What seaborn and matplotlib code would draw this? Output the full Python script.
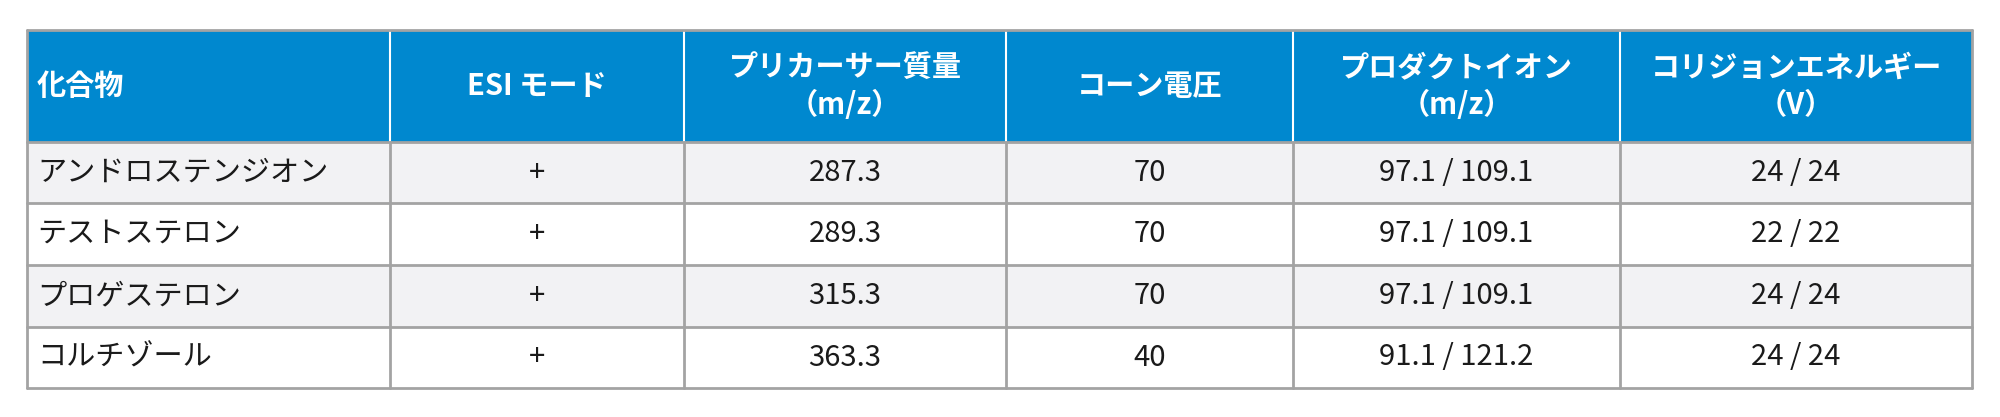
import matplotlib
matplotlib.use("Agg")
import matplotlib.pyplot as plt
import seaborn as sns
from matplotlib.patches import Rectangle

# Table content
headers = ['化合物', 'ESI モード', 'プリカーサー質量\n（m/z）', 'コーン電圧', 'プロダクトイオン\n（m/z）', 'コリジョンエネルギー\n（V）']
compounds = ['アンドロステンジオン', 'テストステロン', 'プロゲステロン', 'コルチゾール']
esi_mode = ['+', '+', '+', '+']
precursor = ['287.3', '289.3', '315.3', '363.3']
cone_voltage = ['70', '70', '70', '40']
product_ions = ['97.1 / 109.1', '97.1 / 109.1', '97.1 / 109.1', '91.1 / 121.2']
collision_energy = ['24 / 24', '22 / 22', '24 / 24', '24 / 24']

columns = [compounds, esi_mode, precursor, cone_voltage, product_ions, collision_energy]

# Layout (pixel space)
col_edges = [27, 390, 684, 1006, 1293, 1620, 1972]
header_top, header_bottom = 30, 142
row_edges = [142, 203, 265, 327, 388]

blue = '#0088CF'
gray_row = '#F2F2F4'
border = '#A3A3A3'

sns.set_theme(style='white')
plt.rcParams['font.family'] = ['Noto Sans CJK JP', 'DejaVu Sans']

fig = plt.figure(figsize=(20, 4.17), dpi=100)
ax = fig.add_axes([0, 0, 1, 1])
ax.set_xlim(0, 2000)
ax.set_ylim(417, 0)
ax.axis('off')

# Header
ax.add_patch(Rectangle((col_edges[0], header_top), col_edges[-1] - col_edges[0],
                       header_bottom - header_top, facecolor=blue, edgecolor='none'))
for i, h in enumerate(headers):
    x0, x1 = col_edges[i], col_edges[i + 1]
    yc = (header_top + header_bottom) / 2
    if i == 0:
        ax.text(x0 + 10, yc, h, ha='left', va='center', color='white', fontsize=21, fontweight='bold')
    else:
        ax.text((x0 + x1) / 2, yc, h, ha='center', va='center', color='white',
                fontsize=21, fontweight='bold', linespacing=1.3, multialignment='center')
for x in col_edges[1:-1]:
    ax.plot([x, x], [header_top, header_bottom], color='white', lw=1.5)
ax.plot([col_edges[0], col_edges[-1]], [header_top, header_top], color=border, lw=2)

# Body rows
for r in range(len(compounds)):
    y0, y1 = row_edges[r], row_edges[r + 1]
    fc = gray_row if r % 2 == 0 else 'white'
    ax.add_patch(Rectangle((col_edges[0], y0), col_edges[-1] - col_edges[0], y1 - y0,
                           facecolor=fc, edgecolor='none'))
    yc = (y0 + y1) / 2
    for c, vals in enumerate(columns):
        x0, x1 = col_edges[c], col_edges[c + 1]
        if c == 0:
            ax.text(x0 + 10, yc, vals[r], ha='left', va='center', color='#1a1a1a', fontsize=21)
        else:
            ax.text((x0 + x1) / 2, yc, vals[r], ha='center', va='center', color='#1a1a1a', fontsize=21)

# Grid lines
for y in row_edges:
    ax.plot([col_edges[0], col_edges[-1]], [y, y], color=border, lw=2)
for x in col_edges:
    ax.plot([x, x], [row_edges[0], row_edges[-1]], color=border, lw=2)
ax.plot([col_edges[0], col_edges[0]], [header_top, header_bottom], color=border, lw=2)
ax.plot([col_edges[-1], col_edges[-1]], [header_top, header_bottom], color=border, lw=2)

fig.savefig('out.png', dpi=100)
